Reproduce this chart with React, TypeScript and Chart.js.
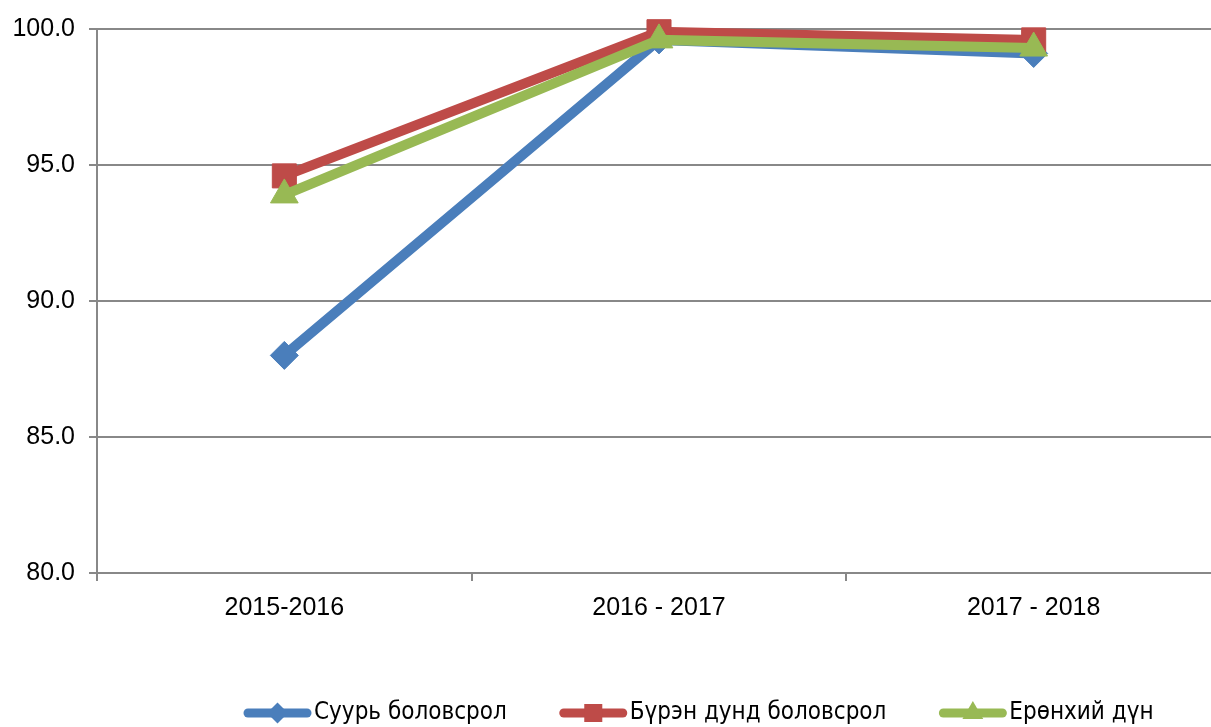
import React, { useEffect, useRef } from "react";
import { Chart, registerables } from "chart.js";

Chart.register(...registerables);

const categories = ["2015-2016", "2016 - 2017", "2017 - 2018"];
const seriesNames = ["Суурь боловсрол", "Бүрэн дунд боловсрол", "Ерөнхий дүн"];
const basicEdu = [88.0, 99.6, 99.1];
const fullSecondary = [94.6, 99.9, 99.6];
const overall = [93.9, 99.6, 99.3];
const yTicks = [80, 85, 90, 95, 100];

const colors = ["#4A7EBB", "#BE4B48", "#98B954"];
const styles = ["rectRot", "rect", "triangle"];
const radii = [14, 17, 16];

function drawMarker(ctx: CanvasRenderingContext2D, style: string, r: number, x: number, y: number) {
  ctx.beginPath();
  if (style === "rectRot") {
    ctx.moveTo(x, y - r);
    ctx.lineTo(x + r, y);
    ctx.lineTo(x, y + r);
    ctx.lineTo(x - r, y);
  } else if (style === "rect") {
    const s = r * Math.SQRT1_2;
    ctx.rect(x - s, y - s, 2 * s, 2 * s);
  } else {
    ctx.moveTo(x, y - r);
    ctx.lineTo(x + r * Math.cos(Math.PI / 6), y + r / 2);
    ctx.lineTo(x - r * Math.cos(Math.PI / 6), y + r / 2);
  }
  ctx.closePath();
  ctx.fill();
}

const legendPlugin = {
  id: "customLegend",
  afterDraw(chart: any) {
    const ctx = chart.ctx;
    ctx.save();
    ctx.font = '24px "DejaVu Sans Condensed", "DejaVu Sans", sans-serif';
    ctx.textBaseline = "middle";
    const y = 713;
    let x = 244;
    const sample = 67;
    chart.data.datasets.forEach((ds: any) => {
      ctx.strokeStyle = ds.borderColor;
      ctx.lineWidth = 9;
      ctx.lineCap = "round";
      ctx.beginPath();
      ctx.moveTo(x + 4, y);
      ctx.lineTo(x + sample - 4, y);
      ctx.stroke();
      ctx.fillStyle = ds.borderColor;
      drawMarker(ctx, ds.pointStyle, ds.pointRadius * 0.75, x + sample / 2, y);
      ctx.fillStyle = "#000";
      ctx.textAlign = "left";
      ctx.fillText(ds.label, x + sample + 3, y);
      x += sample + 3 + ctx.measureText(ds.label).width + 53;
    });
    ctx.restore();
  },
};

export default function App() {
  const ref = useRef<HTMLCanvasElement>(null);
  useEffect(() => {
    if (!ref.current) return;
    const data = [basicEdu, fullSecondary, overall];
    const chart = new Chart(ref.current, {
      type: "line",
      data: {
        labels: categories,
        datasets: data.map((d, i) => ({
          label: seriesNames[i],
          data: d,
          borderColor: colors[i],
          backgroundColor: colors[i],
          pointBackgroundColor: colors[i],
          pointBorderColor: colors[i],
          borderWidth: 10,
          pointStyle: styles[i] as any,
          pointRadius: radii[i],
          pointHoverRadius: radii[i],
          pointBorderWidth: 1,
          tension: 0,
          clip: false as any,
          order: 2 - i,
        })),
      },
      plugins: [legendPlugin],
      options: {
        responsive: false,
        animation: false,
        devicePixelRatio: 1,
        layout: { padding: { top: 27, right: 11, left: 0, bottom: 0 } },
        plugins: { legend: { display: false }, tooltip: { enabled: false } },
        scales: {
          x: {
            offset: true,
            grid: { drawOnChartArea: false, offset: true, tickLength: 8, color: "#888", lineWidth: 2 },
            border: { color: "#888", width: 2 },
            ticks: { padding: 12, color: "#000", font: { family: '"Liberation Sans", Arial, sans-serif', size: 25 } },
            afterFit(scale: any) {
              scale.height = 154;
            },
          },
          y: {
            min: 80,
            max: 100,
            afterBuildTicks(scale: any) {
              scale.ticks = yTicks.map((v) => ({ value: v }));
            },
            grid: { color: "#888", lineWidth: 2, tickLength: 8 },
            border: { color: "#888", width: 2 },
            ticks: {
              padding: 14,
              color: "#000",
              font: { family: '"Liberation Sans", Arial, sans-serif', size: 25 },
              callback: (v: any) => Number(v).toFixed(1),
            },
            afterFit(scale: any) {
              scale.width = 97;
            },
          },
        },
      },
    });
    return () => chart.destroy();
  }, []);
  return (
    <div style={{ position: "fixed", left: 0, top: 0, width: 1211, height: 727, overflow: "hidden", background: "#fff" }}>
      <canvas ref={ref} width={1239} height={727} style={{ width: 1239, height: 727, display: "block" }} />
    </div>
  );
}
